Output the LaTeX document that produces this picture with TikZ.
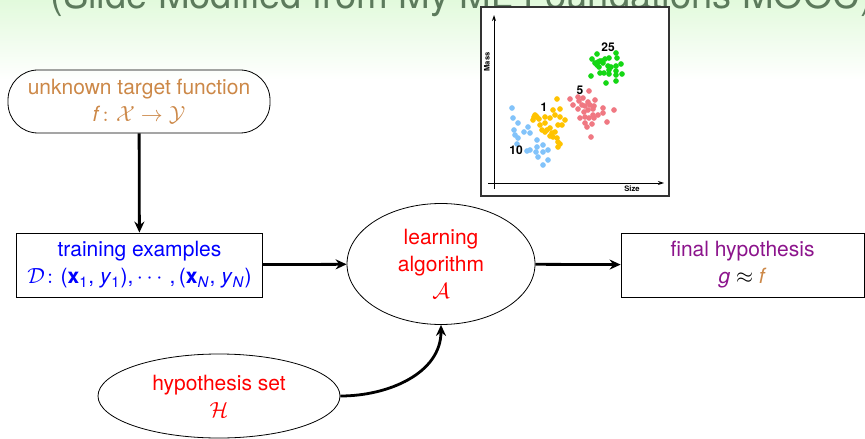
\documentclass[tikz,border=0pt]{standalone}
\usepackage{amsmath}
\usepackage{fontspec}
\setmainfont{TeX Gyre Heros}
\usepackage{tikz}
\usetikzlibrary{arrows.meta,shapes.geometric}

\definecolor{bggreen}{RGB}{226,250,220}
\definecolor{titlegray}{RGB}{92,122,92}
\definecolor{tgtbrown}{RGB}{204,136,72}
\definecolor{hypurple}{RGB}{140,20,140}
\definecolor{ptgreen}{RGB}{20,215,20}
\definecolor{ptred}{RGB}{240,120,130}
\definecolor{ptyellow}{RGB}{255,195,0}
\definecolor{ptblue}{RGB}{130,195,250}

\tikzset{
  boxtext/.style={font=\fontsize{10.5}{13.5}\selectfont, align=center, inner sep=0pt},
  stadium/.style={boxtext, draw, rounded corners=15pt, minimum width=131pt, minimum height=31.5pt},
  blockbox/.style={boxtext, draw, minimum width=123pt, minimum height=32pt},
  oval/.style={boxtext, draw, ellipse},
  flow/.style={->, line width=1.4pt},
  dot/.style={line width=0.35pt, fill=white},
  clusterlbl/.style={font=\bfseries\fontsize{6}{7}\selectfont, inner sep=0pt},
  axislbl/.style={font=\bfseries\fontsize{3.8}{4}\selectfont, inner sep=0pt},
}

\begin{document}
\begin{tikzpicture}[x=0.5pt, y=-0.5pt, >={Stealth[length=5.5pt,width=5pt,inset=1.8pt]}]
    \useasboundingbox (0,0) rectangle (865,438);
    \clip (0,0) rectangle (865,438);

    % slide background and title
    \shade[top color=bggreen, bottom color=white] (0,0) rectangle (865,80);
    \node[anchor=base west, inner sep=0pt, text=titlegray,
          font=\fontsize{19}{22}\selectfont] (title) at (50,9)
          {(Slide Modified from My ML Foundations MOOC)};

    % scatter plot of the coins
    \draw[fill=white, draw=black!80, line width=0.8pt] (481,7) rectangle (669,196);
    \coordinate (ybot) at (494,189);
    \coordinate (ytop) at (494,15);
    \coordinate (xleft) at (488,183);
    \coordinate (xright) at (664,183);
    \draw[-{Stealth[length=3pt,width=2pt]}, line width=0.5pt] (ybot) -- (ytop);
    \draw[-{Stealth[length=3pt,width=2pt]}, line width=0.5pt] (xleft) -- (xright);
    \node[axislbl, rotate=90] (masslbl) at (487,62) {Mass};
    \node[axislbl] (sizelbl) at (632,189) {Size};

    \foreach \p in {(597,54),(616,53),(617,58),(605,59),(609,58),(600,61),(598,62),
                    (602,61),(595,63),(592,59),(597,65),(599,67),(603,63),(608,66),
                    (611,67),(616,66),(621,64),(616,71),(609,70),(604,73),(600,73),
                    (591,76),(606,83),(616,81),(622,74),(616,75),(609,74)}
        \draw[dot, ptgreen] \p circle (2.4);
    \foreach \p in {(589,91),(570,99),(578,97),(583,98),(588,102),(595,100),(573,105),
                    (579,101),(582,105),(585,106),(590,105),(594,106),(603,108),(614,110),
                    (578,109),(584,112),(588,110),(593,109),(603,113),(580,118),(585,117),
                    (589,118),(593,115),(594,118),(607,122),(585,123),(592,124),(587,127),
                    (591,137),(598,115)}
        \draw[dot, ptred] \p circle (2.4);
    \foreach \p in {(557,99),(560,109),(553,110),(535,115),(537,117),(539,119),(533,120),
                    (536,116),(534,117),(545,117),(550,118),(555,115),(560,117),(565,120),
                    (540,125),(545,123),(550,128),(558,125),(562,125),(542,130),(547,130),
                    (552,133),(555,132),(550,136),(553,137),(557,138),(558,142),(560,144),
                    (558,147),(545,132)}
        \draw[dot, ptyellow] \p circle (2.4);
    \foreach \p in {(512,108),(513,118),(518,123),(514,130),(515,135),(518,138),(517,144),
                    (528,127),(524,132),(530,133),(537,140),(527,151),(530,150),(537,147),
                    (543,145),(536,152),(543,152),(548,150),(538,157),(548,160),(543,165)}
        \draw[dot, ptblue] \p circle (2.4);

    \node[clusterlbl] (lbl25) at (608,47) {25};
    \node[clusterlbl] (lbl5) at (580,90) {5};
    \node[clusterlbl] (lbl1) at (544,107) {1};
    \node[clusterlbl] (lbl10) at (516,150) {10};

    % learning flow
    \node[stadium, text=tgtbrown] (target) at (139,101.5)
        {unknown target function\\ \textit{f}$\colon\mathcal{X}\to\mathcal{Y}$};
    \node[blockbox, text=blue] (train) at (139.5,265)
        {training examples\\ $\mathcal{D}\colon$(\textbf{x}\textsubscript{1}, \textit{y}\textsubscript{1}),\,$\cdots$\,,\,(\textbf{x}\textsubscript{\textit{N}}, \textit{y}\textsubscript{\textit{N}})};
    \node[oval, text=red, minimum width=94pt, minimum height=60.5pt] (learn) at (441,264)
        {learning\\ algorithm\\ $\mathcal{A}$};
    \node[blockbox, text=hypurple, minimum width=121.5pt] (final) at (742.5,265)
        {final hypothesis\\ \textit{g} {\color{black}$\approx$} {\color{tgtbrown}\textit{f}}};
    \node[oval, text=red, minimum width=121pt, minimum height=42pt] (hypset) at (219,396)
        {hypothesis set\\ $\mathcal{H}$};

    \draw[flow] (target) -- (train);
    \draw[flow] (train) -- (learn);
    \draw[flow] (learn) -- (final);
    \draw[flow] (hypset.east) to[out=0, in=-90] (learn.south);
\end{tikzpicture}
\end{document}
